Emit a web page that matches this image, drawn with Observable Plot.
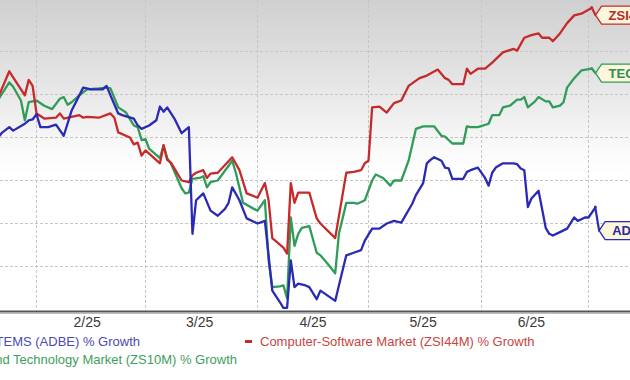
<!DOCTYPE html>
<html><head><meta charset="utf-8">
<script src="https://cdn.jsdelivr.net/npm/d3@7"></script>
<script src="https://cdn.jsdelivr.net/npm/@observablehq/plot@0.6"></script>
<style>
html,body{margin:0;padding:0;background:#fff;}
#wrap{position:relative;width:630px;height:380px;overflow:hidden;font-family:"Liberation Sans",Arial,sans-serif;}
#chart{position:absolute;left:0;top:0;width:630px;overflow:hidden;}
#legend{position:absolute;left:0;top:334px;width:630px;height:46px;}
.item{position:absolute;white-space:nowrap;font-size:13px;line-height:16px;}
.dash{display:inline-block;width:7px;height:3px;vertical-align:middle;margin-right:8px;position:relative;top:-1px;}
</style></head><body>
<div id="wrap"><div id="chart"></div><div id="legend"></div></div>
<script>
// ---- data (percent growth) ----
const adbe = [["2025-01-22",-0.1],["2025-01-23",0.5],["2025-01-25",1.2],["2025-01-26",0.8],["2025-01-29",1.6],["2025-01-30",2.0],["2025-01-31",2.1],["2025-02-01",2.7],["2025-02-02",1.2],["2025-02-04",1.2],["2025-02-06",1.5],["2025-02-08",0.2],["2025-02-10",3.1],["2025-02-13",5.8],["2025-02-15",5.6],["2025-02-18",5.6],["2025-02-19",6.0],["2025-02-20",4.9],["2025-02-22",2.8],["2025-02-23",2.6],["2025-02-26",2.2],["2025-02-27",1.4],["2025-02-28",1.0],["2025-03-02",1.4],["2025-03-04",2.0],["2025-03-05",3.6],["2025-03-06",3.0],["2025-03-07",3.5],["2025-03-09",2.2],["2025-03-11",0.5],["2025-03-13",1.2],["2025-03-14",-11.2],["2025-03-15",-7.3],["2025-03-17",-6.5],["2025-03-19",-8.5],["2025-03-21",-9.1],["2025-03-23",-8.3],["2025-03-24",-7.6],["2025-03-25",-5.8],["2025-03-27",-7.3],["2025-03-29",-9.4],["2025-04-01",-10.0],["2025-04-03",-9.7],["2025-04-05",-17.8],["2025-04-07",-19.1],["2025-04-08",-19.8],["2025-04-09",-19.8],["2025-04-10",-14.3],["2025-04-11",-17.4],["2025-04-12",-17.0],["2025-04-14",-17.2],["2025-04-15",-17.4],["2025-04-17",-18.8],["2025-04-18",-17.8],["2025-04-19",-18.1],["2025-04-22",-19.0],["2025-04-23",-17.2],["2025-04-25",-13.7],["2025-04-27",-13.4],["2025-04-29",-13.1],["2025-04-30",-12.0],["2025-05-02",-10.6],["2025-05-04",-10.6],["2025-05-06",-10.0],["2025-05-08",-9.7],["2025-05-10",-9.9],["2025-05-13",-7.7],["2025-05-14",-6.7],["2025-05-16",-5.3],["2025-05-17",-3.0],["2025-05-18",-2.6],["2025-05-19",-2.3],["2025-05-21",-2.7],["2025-05-22",-3.5],["2025-05-23",-3.6],["2025-05-24",-4.8],["2025-05-27",-4.8],["2025-05-28",-4.0],["2025-05-29",-3.8],["2025-05-31",-3.5],["2025-06-02",-4.7],["2025-06-03",-5.6],["2025-06-04",-4.1],["2025-06-05",-3.5],["2025-06-07",-3.0],["2025-06-10",-3.0],["2025-06-11",-3.1],["2025-06-12",-3.6],["2025-06-13",-3.8],["2025-06-14",-8.1],["2025-06-15",-7.1],["2025-06-17",-6.2],["2025-06-19",-10.5],["2025-06-20",-11.2],["2025-06-21",-11.4],["2025-06-23",-11.0],["2025-06-25",-10.6],["2025-06-27",-9.3],["2025-06-28",-9.7],["2025-06-30",-9.3],["2025-07-01",-9.3],["2025-07-03",-8.1]];

const zsi44m = [["2025-01-22",4.5],["2025-01-25",7.7],["2025-01-29",4.9],["2025-01-30",6.7],["2025-01-31",6.0],["2025-02-01",2.8],["2025-02-03",2.2],["2025-02-06",2.3],["2025-02-07",2.8],["2025-02-08",2.2],["2025-02-12",2.6],["2025-02-13",2.3],["2025-02-14",2.4],["2025-02-17",2.3],["2025-02-20",2.8],["2025-02-21",2.3],["2025-02-22",0.6],["2025-02-25",0.0],["2025-02-26",-0.8],["2025-02-27",-0.6],["2025-02-28",-2.1],["2025-03-01",-1.5],["2025-03-05",-3.0],["2025-03-06",-0.9],["2025-03-07",-2.6],["2025-03-08",-2.9],["2025-03-11",-5.0],["2025-03-13",-5.2],["2025-03-14",-4.4],["2025-03-15",-4.1],["2025-03-17",-3.8],["2025-03-18",-4.7],["2025-03-19",-4.2],["2025-03-21",-4.1],["2025-03-25",-2.3],["2025-03-27",-3.8],["2025-03-29",-6.5],["2025-04-01",-7.0],["2025-04-03",-5.3],["2025-04-04",-7.3],["2025-04-05",-11.7],["2025-04-08",-12.8],["2025-04-09",-13.5],["2025-04-10",-5.3],["2025-04-11",-7.6],["2025-04-12",-6.4],["2025-04-15",-6.4],["2025-04-17",-9.4],["2025-04-18",-10.0],["2025-04-22",-11.7],["2025-04-25",-4.1],["2025-04-27",-4.0],["2025-04-29",-3.8],["2025-04-30",-3.0],["2025-05-01",-2.7],["2025-05-02",3.5],["2025-05-04",3.6],["2025-05-06",2.9],["2025-05-08",4.0],["2025-05-10",4.3],["2025-05-12",6.0],["2025-05-15",6.9],["2025-05-17",7.2],["2025-05-20",7.9],["2025-05-22",6.9],["2025-05-23",6.7],["2025-05-24",6.2],["2025-05-27",6.2],["2025-05-28",8.0],["2025-05-29",7.4],["2025-05-31",8.0],["2025-06-02",8.0],["2025-06-04",8.7],["2025-06-07",9.9],["2025-06-10",10.3],["2025-06-11",10.1],["2025-06-13",11.6],["2025-06-15",11.9],["2025-06-17",12.1],["2025-06-18",11.6],["2025-06-20",11.6],["2025-06-21",11.2],["2025-06-23",12.1],["2025-06-25",13.3],["2025-06-27",14.2],["2025-06-29",14.4],["2025-07-02",15.1]];

const zs10m = [["2025-01-22",4.3],["2025-01-25",6.4],["2025-01-26",5.9],["2025-01-28",4.3],["2025-01-29",2.0],["2025-01-30",4.1],["2025-02-01",4.3],["2025-02-03",3.7],["2025-02-05",3.3],["2025-02-07",4.5],["2025-02-08",4.7],["2025-02-09",3.8],["2025-02-10",4.1],["2025-02-12",4.9],["2025-02-14",5.6],["2025-02-17",5.7],["2025-02-19",5.8],["2025-02-20",5.7],["2025-02-22",3.5],["2025-02-24",2.9],["2025-02-26",1.4],["2025-02-27",1.2],["2025-02-28",-0.3],["2025-03-01",-0.2],["2025-03-02",-1.3],["2025-03-05",-2.4],["2025-03-06",-0.9],["2025-03-07",-2.4],["2025-03-08",-3.0],["2025-03-11",-5.9],["2025-03-12",-6.5],["2025-03-13",-6.4],["2025-03-14",-4.8],["2025-03-16",-4.7],["2025-03-17",-4.5],["2025-03-18",-5.8],["2025-03-19",-5.2],["2025-03-21",-5.0],["2025-03-25",-2.7],["2025-03-26",-4.1],["2025-03-28",-7.6],["2025-03-31",-8.3],["2025-04-01",-8.5],["2025-04-03",-7.3],["2025-04-04",-14.3],["2025-04-05",-17.4],["2025-04-07",-17.3],["2025-04-08",-17.2],["2025-04-09",-18.7],["2025-04-10",-9.3],["2025-04-11",-12.6],["2025-04-12",-11.2],["2025-04-13",-10.5],["2025-04-15",-10.3],["2025-04-17",-13.4],["2025-04-18",-13.7],["2025-04-20",-14.7],["2025-04-22",-15.8],["2025-04-23",-11.2],["2025-04-25",-7.6],["2025-04-27",-7.6],["2025-04-28",-7.7],["2025-04-30",-7.3],["2025-05-02",-5.0],["2025-05-03",-4.3],["2025-05-05",-4.7],["2025-05-07",-5.6],["2025-05-08",-5.0],["2025-05-10",-5.0],["2025-05-12",-2.7],["2025-05-14",1.0],["2025-05-16",1.3],["2025-05-19",1.3],["2025-05-21",0.2],["2025-05-22",0.1],["2025-05-24",-0.7],["2025-05-27",-0.7],["2025-05-28",1.3],["2025-05-29",1.2],["2025-05-31",1.2],["2025-06-03",1.6],["2025-06-04",2.6],["2025-06-06",2.6],["2025-06-07",3.5],["2025-06-09",3.7],["2025-06-11",4.4],["2025-06-12",4.4],["2025-06-13",4.7],["2025-06-14",3.5],["2025-06-16",4.2],["2025-06-17",4.7],["2025-06-19",4.2],["2025-06-20",4.2],["2025-06-21",3.5],["2025-06-23",3.7],["2025-06-24",4.1],["2025-06-25",5.8],["2025-06-27",6.9],["2025-06-29",7.8],["2025-07-02",8.0]];

const seriesKeys = ["ZS10M", "ZSI44M", "ADBE"];
const seriesData = [zs10m, zsi44m, adbe];
const seriesColors = ["#2f9d58", "#c62a2a", "#2a2ab4"];
const tagLabels = ["TECH", "ZSI44M", "ADBE"];
const tagTextColors = ["#2f8f50", "#b72a2a", "#2a2aa0"];

const tickDates = ["2025-02-14", "2025-03-16", "2025-04-16", "2025-05-16", "2025-06-15"];
const tickLabels = ["2/25", "3/25", "4/25", "5/25", "6/25"];
const monthStarts = ["2025-02-01", "2025-03-01", "2025-04-01", "2025-05-01", "2025-06-01", "2025-07-01"];
const gridValues = [-15, -10, -5, 0, 5, 10];

const legendLabels = ["ADOBE SYSTEMS (ADBE) % Growth", "Computer-Software Market (ZSI44M) % Growth", "Computer and Technology Market (ZS10M) % Growth"];
const legendSeries = ["ADBE", "ZSI44M", "ZS10M"];
const legendTextColors = ["#4a4ab6", "#c8463f", "#3e9e5e"];

// ---- build ----
const parse = d3.utcParse("%Y-%m-%d");
const rows = [];
seriesKeys.forEach((k, i) => seriesData[i].forEach(([d, v]) => rows.push({series: k, date: parse(d), value: v})));
const labelOf = new Map(tickDates.map((d, i) => [+parse(d), tickLabels[i]]));

const tagDy = [5, 8, 24];
function tags(index, scales) {
  const g = d3.create("svg:g");
  seriesKeys.forEach((k, i) => {
    const data = seriesData[i];
    const last = data[data.length - 1];
    const x0 = scales.x(parse(last[0])), y0 = scales.y(last[1]);
    const tx = x0 + 4, ty = y0 + tagDy[i];
    g.append("path").attr("d", `M${x0},${y0}L${tx},${ty}`)
      .attr("stroke", seriesColors[i]).attr("stroke-width", 2.2).attr("fill", "none").attr("stroke-linecap", "round");
    g.append("path").attr("d", `M${tx},${ty}L${tx + 6},${ty - 9}H${tx + 80}V${ty + 9}H${tx + 6}Z`)
      .attr("fill", "#fcf6dc").attr("stroke", seriesColors[i]).attr("stroke-width", 1.3);
    g.append("text").attr("x", tx + 13).attr("y", ty).attr("dy", "0.36em")
      .attr("text-anchor", "start")
      .attr("fill", tagTextColors[i]).attr("font-weight", "bold").attr("font-size", 13)
      .text(tagLabels[i]);
  });
  return g.node();
}

const H = 334;
const chart = Plot.plot({
  width: 630,
  height: H,
  marginTop: 0,
  marginBottom: H - 311,
  marginLeft: 0,
  marginRight: 0,
  style: {
    background: "linear-gradient(to bottom, #d0d0d0 0px, #dfdfdf 60px, #ededed 110px, #fafafa 150px, #ffffff 175px)",
    fontFamily: "Liberation Sans, Arial, sans-serif",
    fontSize: "14px",
    color: "#3a3a3a",
    overflow: "hidden"
  },
  x: {
    type: "utc",
    domain: ["2025-01-23", "2025-02-01", "2025-03-01", "2025-04-01", "2025-05-01", "2025-06-01", "2025-07-01", "2025-07-13"].map(parse),
    range: [1, 36, 145, 257, 368, 481, 588, 630.8],
    ticks: tickDates.map(parse),
    tickFormat: d => labelOf.get(+d),
    tickSize: 0,
    tickPadding: 6,
    label: null
  },
  y: {domain: [-20, 15], range: [309, 8], axis: null},
  color: {domain: seriesKeys, range: seriesColors},
  marks: [
    Plot.ruleY(gridValues, {stroke: "#c6c6c6", strokeDasharray: "3,2", strokeWidth: 1}),
    Plot.ruleX(monthStarts.map(parse), {stroke: "#c6c6c6", strokeDasharray: "3,2", strokeWidth: 1}),
    Plot.lineY(rows, {x: "date", y: "value", z: "series", stroke: "series", strokeWidth: 2.3, strokeLinejoin: "round"}),
    tags,
    Plot.ruleY([-20], {stroke: "#555", strokeWidth: 2.2, dy: 2}),
    Plot.ruleY([-20], {stroke: "#bdbdbd", strokeWidth: 1, dy: 4})
  ]
});
document.getElementById("chart").appendChild(chart);

// ---- legend ----
const legend = d3.select("#legend");
const place = [
  {right: 630 - 140, top: 0},
  {left: 245, top: 0},
  {right: 630 - 237, top: 18}
];
legendLabels.forEach((lab, i) => {
  const p = place[i];
  const it = legend.append("div").attr("class", "item")
    .style("top", p.top + "px").style("color", legendTextColors[i]);
  if (p.right !== undefined) it.style("right", p.right + "px"); else it.style("left", p.left + "px");
  it.append("span").attr("class", "dash")
    .style("background", seriesColors[seriesKeys.indexOf(legendSeries[i])]);
  it.append("span").text(lab);
});
</script></body></html>
